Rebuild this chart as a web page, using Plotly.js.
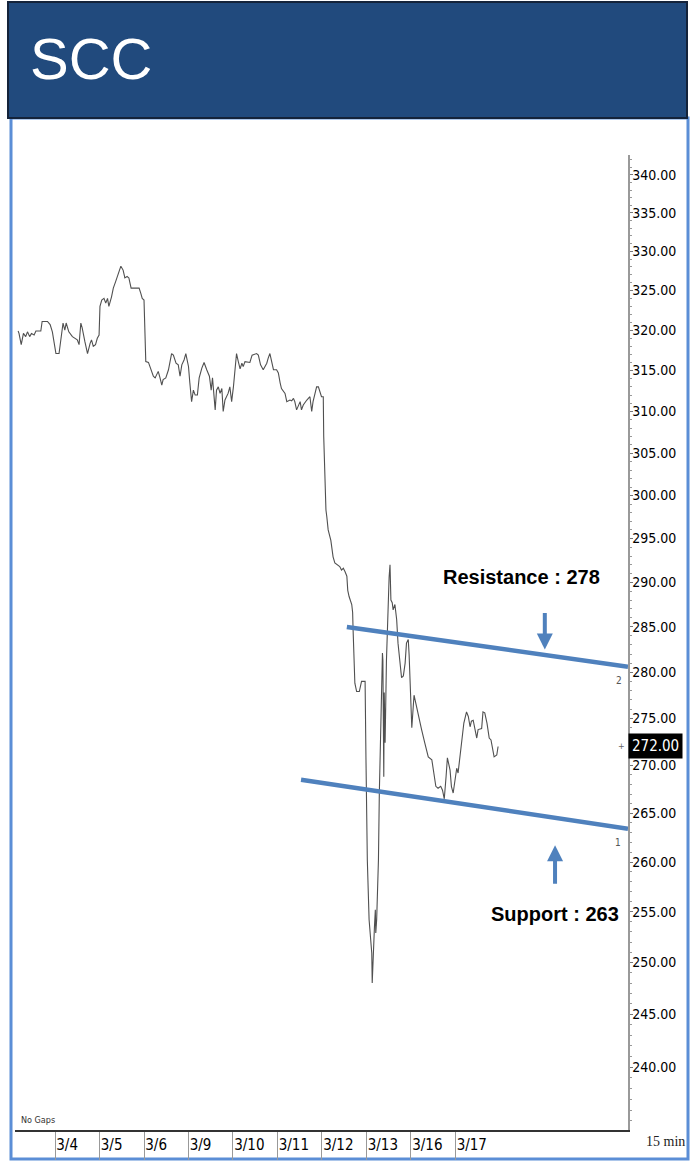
<!DOCTYPE html>
<html>
<head>
<meta charset="utf-8">
<script src="https://cdn.plot.ly/plotly-3.0.1.min.js"></script>
<style>
html,body{margin:0;padding:0;background:#fff;}
#chart{width:699px;height:1162px;}
</style>
</head>
<body>
<div id="chart"></div>
<script>
// ---- data (x in trading-day units: 0 = start of 3/4) ----
const dayPos = [-0.83,-0.81,-0.76,-0.71,-0.66,-0.62,-0.57,-0.53,-0.47,-0.43,-0.32,-0.29,-0.17,-0.11,-0.06,-0.02,0.02,0.09,0.13,0.18,0.22,0.25,0.31,0.39,0.50,0.54,0.58,0.61,0.67,0.73,0.79,0.82,0.86,0.91,0.95,0.99,1.01,1.05,1.10,1.14,1.18,1.21,1.27,1.31,1.36,1.44,1.48,1.53,1.57,1.62,1.66,1.71,1.89,1.93,1.96,2.00,2.04,
2.10,2.13,2.21,2.25,2.29,2.32,2.36,2.40,2.43,2.49,2.55,2.62,2.66,2.72,2.77,2.81,2.85,2.90,2.94,3.00,3.03,3.07,3.11,3.15,3.20,3.24,3.30,3.35,3.41,3.47,3.51,3.54,3.60,3.63,3.67,3.71,3.75,3.78,3.82,3.86,3.89,3.93,3.97,4.01,4.04,4.08,4.12,4.16,4.20,4.23,4.27,4.38,4.43,4.53,4.57,4.62,4.68,4.76,4.79,4.83,4.87,4.91,4.98,5.02,5.06,5.09,5.17,5.21,5.28,5.32,5.36,5.39,5.43,5.47,5.51,5.54,5.58,5.66,5.73,5.77,5.80,5.88,5.92,5.99,6.03,
6.04,6.07,6.09,6.11,6.14,6.20,6.22,6.25,6.29,6.36,6.40,6.44,6.48,6.52,6.56,6.58,6.61,6.67,6.69,6.70,6.72,6.74,6.78,6.84,6.89,6.97,6.99,7.02,7.06,7.09,7.12,7.13,7.15,7.18,7.20,7.21,7.23,7.27,7.29,7.32,7.34,7.36,7.37,7.39,7.40,7.42,7.45,7.48,7.51,7.53,7.55,7.58,7.60,7.64,7.68,7.71,7.75,7.79,7.83,7.87,7.90,7.94,7.96,7.99,8.02,
8.07,8.11,8.16,8.24,8.31,8.39,8.47,8.50,8.56,8.61,8.67,8.71,8.75,8.79,8.82,8.88,8.91,8.95,8.99,9.03,9.06,9.10,9.14,9.19,9.25,9.29,9.33,9.36,9.40,9.44,9.48,9.51,9.59,9.62,9.66,9.71,9.76,9.80,9.84,9.87,9.93,9.96];

const price = [319.9,319.6,318.2,319.6,319.2,319.8,319.2,319.6,319.4,319.9,319.9,321.1,321.1,320.7,319.8,318.6,317.1,317.1,318.6,320.9,320.0,320.9,319.8,319.2,318.8,318.2,320.9,320.3,318.6,317.1,318.4,318.8,318.0,318.2,319.0,319.4,323.0,323.8,324.0,323.4,324.0,323.0,324.2,325.3,326.1,327.4,328.1,327.6,326.6,326.8,326.6,325.3,325.3,324.6,324.0,323.8,316.1,
316.0,315.5,314.3,314.1,314.7,314.9,314.1,313.2,313.9,314.1,315.1,317.1,316.9,315.9,315.7,314.3,315.7,316.3,317.1,315.5,313.5,311.2,312.6,312.0,312.0,314.1,315.3,316.0,315.1,314.3,312.6,314.1,310.2,312.6,313.0,312.2,312.8,310.0,311.4,311.8,312.2,313.0,311.2,313.0,315.1,317.1,316.1,315.2,315.9,315.5,316.1,316.0,316.9,317.1,316.9,315.7,315.1,315.9,316.5,317.1,316.1,315.1,315.1,314.7,313.5,312.8,312.2,311.2,311.4,311.3,311.6,311.2,310.2,310.8,311.2,310.2,310.8,311.4,311.8,310.0,311.2,313.0,313.0,311.8,311.8,
307.0,300.3,298.3,297.5,296.0,294.8,294.1,292.9,292.2,292.0,291.8,291.4,291.6,291.2,290.7,289.1,288.4,287.5,286.6,284.7,282.1,278.8,277.9,277.9,279.0,279.0,270.6,260.2,254.2,252.2,250.9,248.0,251.2,253.5,255.2,252.9,254.2,260.2,267.1,274.1,275.6,282.1,281.3,268.8,277.8,272.4,281.3,286.9,290.6,292.0,288.0,287.7,286.9,287.5,285.8,283.2,281.0,279.4,279.6,281.0,283.2,283.6,281.9,277.8,274.0,
277.5,276.7,275.6,273.8,272.4,270.9,270.6,269.5,267.8,267.6,267.8,267.4,266.5,268.8,270.8,269.5,267.8,267.1,268.5,269.7,269.2,270.9,272.7,274.5,275.7,275.2,274.1,274.7,274.8,274.0,272.9,273.8,273.9,275.7,275.6,274.5,272.9,272.7,271.6,270.9,271.1,272.0];

const dayTicks  = [0,1,2,3,4,5,6,7,8,9];
const dayLabels = ['3/4','3/5','3/6','3/9','3/10','3/11','3/12','3/13','3/16','3/17'];

const priceTicks  = [240,245,250,255,260,265,270,275,280,285,290,295,300,305,310,315,320,325,330,335,340];
const priceLabels = ['240.00','245.00','250.00','255.00','260.00','265.00','270.00','275.00','280.00','285.00','290.00','295.00','300.00','305.00','310.00','315.00','320.00','325.00','330.00','335.00','340.00'];

const resistX = [6.56, 12.88];
const resistY = [285.0, 280.6];
const supportX = [5.53, 12.88];
const supportY = [268.5, 263.4];

const lastPrice = 272.0;
const lastLabel = '272.00';
const resistText = 'Resistance : 278';
const supportText = 'Support : 263';
const resistArrow = {x: 11.01, y: 282.5};
const supportArrow = {x: 11.24, y: 261.7};

// ---- chart ----
const BLUE = '#4F81BD';
const AXFONT = 'DejaVu Sans Condensed, Liberation Sans Narrow, DejaVu Sans, sans-serif';

const traces = [
  {x: dayPos, y: price, type: 'scatter', mode: 'lines',
   line: {color: '#505050', width: 1.1}, hoverinfo: 'skip', showlegend: false},
  {x: resistX, y: resistY, type: 'scatter', mode: 'lines',
   line: {color: BLUE, width: 4.5}, hoverinfo: 'skip', showlegend: false},
  {x: supportX, y: supportY, type: 'scatter', mode: 'lines',
   line: {color: BLUE, width: 4.5}, hoverinfo: 'skip', showlegend: false}
];

const layout = {
  width: 699, height: 1162,
  margin: {l: 15, r: 71, t: 155, b: 32, pad: 0},
  paper_bgcolor: '#ffffff', plot_bgcolor: '#ffffff',
  showlegend: false,
  title: {text: 'SCC', x: 30/699, xanchor: 'left', xref: 'container',
          y: 1 - 59/1162, yanchor: 'middle', yref: 'container',
          font: {family: 'Liberation Sans, Arial, sans-serif', size: 58, color: '#ffffff'}},
  xaxis: {
    range: [-0.9, 12.88], showgrid: false, zeroline: false,
    showline: true, linecolor: '#333', linewidth: 1.5,
    tickmode: 'array', tickvals: dayTicks, ticktext: dayLabels,
    ticks: 'outside', ticklen: 28, tickcolor: '#999', tickwidth: 1,
    ticklabelposition: 'outside right', ticklabelstandoff: 0,
    tickfont: {family: AXFONT, size: 15, color: '#000'}
  },
  yaxis: {
    type: 'log', range: [2.36954, 2.53486], side: 'right',
    showgrid: false, zeroline: false,
    showline: true, linecolor: '#999', linewidth: 1.5,
    tickmode: 'array', tickvals: priceTicks, ticktext: priceLabels,
    ticks: 'outside', ticklen: 3, tickcolor: '#777',
    ticklabelstandoff: -3,
    minor: {dtick: 'L1', ticks: 'outside', ticklen: 2, tickcolor: '#999'},
    tickfont: {family: AXFONT, size: 14, color: '#000'}
  },
  shapes: [
    // light blue frame
    {type: 'rect', xref: 'paper', yref: 'paper',
     x0: (11-15)/613, x1: (688-15)/613, y0: (1130-1159)/975, y1: (1130-118)/975,
     line: {color: '#5B8ED6', width: 3}, fillcolor: 'rgba(0,0,0,0)', layer: 'below'},
    // header bar
    {type: 'rect', xref: 'paper', yref: 'paper',
     x0: (8-15)/613, x1: (687-15)/613, y0: (1130-118)/975, y1: (1130-2)/975,
     line: {color: '#14233a', width: 2}, fillcolor: '#214A7D', layer: 'below'}
  ],
  annotations: [
    {xref: 'paper', yref: 'y', x: 1, y: Math.log10(lastPrice), text: lastLabel,
     xanchor: 'left', yanchor: 'middle', showarrow: false, bgcolor: '#000000',
     borderpad: 3, font: {family: AXFONT, size: 15, color: '#ffffff'}},
    {xref: 'paper', yref: 'y', x: 1, y: Math.log10(lastPrice), text: '+',
     xanchor: 'right', yanchor: 'middle', xshift: -1, showarrow: false,
     font: {family: 'DejaVu Sans', size: 8, color: '#666'}},
    {xref: 'x', yref: 'y', x: resistX[1], y: Math.log10(resistY[1]), text: '2',
     xanchor: 'right', yanchor: 'top', xshift: -4, yshift: -6, showarrow: false,
     font: {family: AXFONT, size: 10, color: '#555'}},
    {xref: 'x', yref: 'y', x: supportX[1], y: Math.log10(supportY[1]), text: '1',
     xanchor: 'right', yanchor: 'top', xshift: -5, yshift: -6, showarrow: false,
     font: {family: AXFONT, size: 10, color: '#555'}},
    {xref: 'paper', yref: 'paper', x: (441-15)/613, y: (1130-577)/975, text: resistText,
     xanchor: 'left', yanchor: 'middle', showarrow: false,
     font: {family: 'Liberation Sans, Arial, sans-serif', size: 20, color: '#000', weight: 'bold'}},
    {xref: 'paper', yref: 'paper', x: (489-15)/613, y: (1130-914)/975, text: supportText,
     xanchor: 'left', yanchor: 'middle', showarrow: false,
     font: {family: 'Liberation Sans, Arial, sans-serif', size: 20, color: '#000', weight: 'bold'}},
    {xref: 'x', yref: 'y', x: resistArrow.x, y: Math.log10(resistArrow.y), text: '',
     showarrow: true, ax: 0, ay: -38, arrowcolor: BLUE, arrowwidth: 4, arrowhead: 2, arrowsize: 0.8},
    {xref: 'x', yref: 'y', x: supportArrow.x, y: Math.log10(supportArrow.y), text: '',
     showarrow: true, ax: 0, ay: 40, arrowcolor: BLUE, arrowwidth: 4, arrowhead: 2, arrowsize: 0.8},
    {xref: 'paper', yref: 'paper', x: (19-15)/613, y: (1130-1120)/975, text: 'No Gaps',
     xanchor: 'left', yanchor: 'middle', showarrow: false,
     font: {family: 'Liberation Sans Narrow, DejaVu Sans Condensed, sans-serif', size: 9, color: '#333'}},
    {xref: 'paper', yref: 'paper', x: (644-15)/613, y: (1130-1141)/975, text: '15 min',
     xanchor: 'left', yanchor: 'middle', showarrow: false,
     font: {family: 'Liberation Serif, Times New Roman, serif', size: 14, color: '#222'}}
  ]
};

Plotly.newPlot('chart', traces, layout, {staticPlot: true, displayModeBar: false});
</script>
</body>
</html>
